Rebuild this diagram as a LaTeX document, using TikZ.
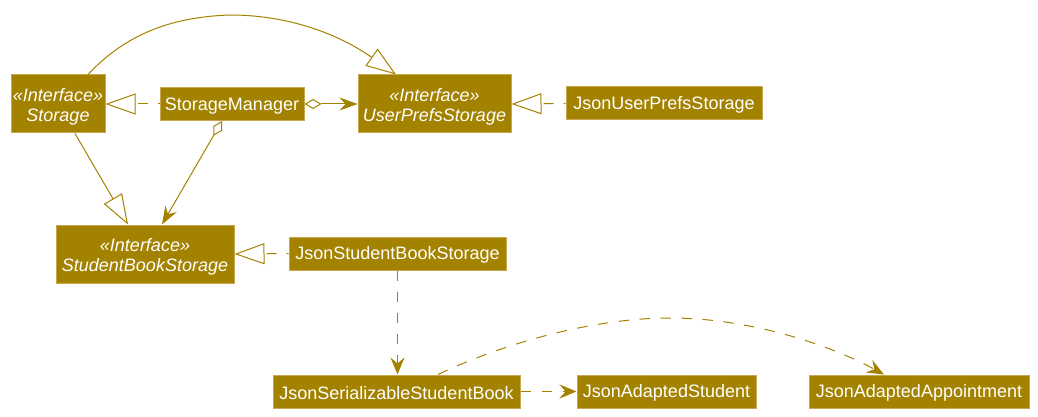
\documentclass[tikz,border=0pt]{standalone}
\usepackage{fontspec}
\setmainfont{Liberation Sans}
\usetikzlibrary{arrows.meta}
\definecolor{gold}{HTML}{A38200}
\definecolor{goldedge}{HTML}{C8A94F}
\definecolor{goldline}{HTML}{A38200}
\newcommand{\topstrut}[1]{\rule{0pt}{#1}}
\begin{document}
\begin{tikzpicture}[x=1pt,y=-1pt,
  boxbase/.style={draw=goldedge, fill=gold, text=white, line width=1pt, inner sep=0pt,
    font=\fontsize{18}{20}\selectfont, align=center},
  box/.style={boxbase, minimum height=33pt},
  ibox/.style={boxbase, minimum height=58pt, font=\fontsize{18}{20}\selectfont\itshape},
  conn/.style={draw=goldline, line width=1pt},
  gen/.style={conn, -{Triangle[open, length=30pt, width=21pt]}},
  real/.style={gen, dash pattern=on 10pt off 10pt, dash phase=8pt},
  dep/.style={conn, dash pattern=on 10.5pt off 10.5pt, -{Stealth[length=17pt, width=14pt, inset=6pt]}},
  aggr/.style={conn, {Diamond[open, length=17pt, width=10pt]}-{Stealth[length=18pt, width=13pt, inset=6pt]}}
]
\useasboundingbox (0,0) rectangle (1038,417);

\node[ibox, minimum width=94pt] (st) at (58,104) {\topstrut{19pt}«Interface»\\Storage};
\node[box, minimum width=144pt] (sm) at (232,104) {\topstrut{16pt}StorageManager};
\node[ibox, minimum width=153pt] (ups) at (434.5,104) {\topstrut{19pt}«Interface»\\UserPrefsStorage};
\node[box, minimum width=196pt] (jups) at (664,103.5) {\topstrut{16pt}JsonUserPrefsStorage};
\node[ibox, minimum width=178pt] (sbs) at (145,254) {\topstrut{19pt}«Interface»\\StudentBookStorage};
\node[box, minimum width=217pt] (jsbs) at (397.5,253.5) {\topstrut{16pt}JsonStudentBookStorage};
\node[box, minimum width=247pt] (jssb) at (396.5,391.5) {\topstrut{16pt}JsonSerializableStudentBook};
\node[box, minimum width=179pt] (jas) at (666.5,391.5) {\topstrut{16pt}JsonAdaptedStudent};
\node[box, minimum width=220pt] (jaa) at (919,391.5) {\topstrut{16pt}JsonAdaptedAppointment};

\draw[gen] ([xshift=30pt]st.north) .. controls (125,35) and (170,17) .. (230,15)
  .. controls (290,15) and (340,35) .. ([xshift=-38.5pt]ups.north);
\draw[real] (sm.west) -- (st.east);
\draw[aggr] (sm.east) -- (ups.west);
\draw[aggr] ([xshift=-10pt]sm.south) -- ([xshift=17pt]sbs.north);
\draw[gen] ([xshift=17pt]st.south) -- ([xshift=-17pt]sbs.north);
\draw[real] (jups.west) -- (ups.east);
\draw[real] (jsbs.west) -- (sbs.east);
\draw[dep] (jsbs.south) -- (jsbs.south |- jssb.north);
\draw[dep] (jssb.east) -- (jas.west);
\draw[dep] ([xshift=41.5pt]jssb.north) .. controls (500,345) and (590,318) .. (670,318)
  .. controls (750,318) and (830,345) .. ([xshift=-35pt]jaa.north);
\end{tikzpicture}
\end{document}
